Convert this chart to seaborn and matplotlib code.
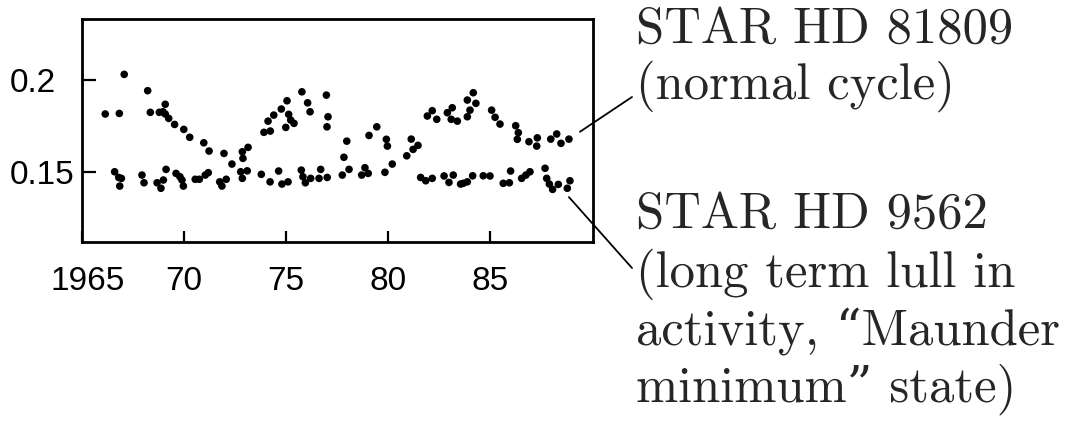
import matplotlib
matplotlib.use("Agg")
import matplotlib.pyplot as plt
from matplotlib.transforms import ScaledTranslation
import seaborn as sns
import pandas as pd

# ---- data ----
hd81809_year = [1966.14, 1966.83, 1967.07, 1968.22, 1968.35, 1968.79, 1968.97, 1969.08, 1969.08,
                1969.25, 1969.54, 1969.99, 1970.28, 1970.97, 1971.23, 1971.96, 1972.35, 1972.86,
                1972.89, 1973.14, 1973.92, 1974.23, 1974.12, 1974.40, 1974.77, 1975.05, 1975.13,
                1974.99, 1975.23, 1975.39, 1975.78, 1976.06, 1976.18, 1976.98, 1977.06, 1977.01,
                1977.84, 1977.98, 1979.07, 1979.45, 1979.92, 1979.97, 1980.21, 1980.92, 1981.14,
                1981.23, 1981.47, 1981.93, 1982.17, 1982.39, 1982.91, 1983.15, 1983.10, 1983.40,
                1984.18, 1983.89, 1984.31, 1984.02, 1983.89, 1985.08, 1985.25, 1985.49, 1986.26,
                1986.39, 1986.34, 1986.91, 1987.32, 1987.29, 1987.98, 1988.27, 1988.48, 1988.87]
hd81809_value = [0.1815, 0.1818, 0.2031, 0.1942, 0.1824, 0.1824, 0.1827, 0.1868, 0.1815,
                 0.1791, 0.1758, 0.1731, 0.1688, 0.1658, 0.1613, 0.1600, 0.1542, 0.1609,
                 0.1573, 0.1633, 0.1715, 0.1722, 0.1776, 0.1809, 0.1842, 0.1887, 0.1813,
                 0.1742, 0.1782, 0.1764, 0.1936, 0.1876, 0.1827, 0.1918, 0.1800, 0.1745,
                 0.1579, 0.1667, 0.1698, 0.1745, 0.1677, 0.1640, 0.1542, 0.1587, 0.1678,
                 0.1622, 0.1644, 0.1804, 0.1833, 0.1786, 0.1822, 0.1849, 0.1786, 0.1776,
                 0.1931, 0.1891, 0.1873, 0.1836, 0.1800, 0.1836, 0.1797, 0.1760, 0.1751,
                 0.1713, 0.1677, 0.1664, 0.1685, 0.1640, 0.1678, 0.1706, 0.1655, 0.1678]

hd9562_year = [1966.60, 1966.80, 1966.93, 1966.85, 1967.94, 1968.04, 1968.68, 1968.87, 1968.99,
               1969.12, 1969.61, 1969.80, 1969.90, 1969.97, 1970.55, 1970.75, 1971.04, 1971.19,
               1971.75, 1971.86, 1972.07, 1972.78, 1972.86, 1973.10, 1973.79, 1974.22, 1974.64,
               1974.80, 1975.10, 1975.75, 1975.83, 1975.95, 1976.21, 1976.62, 1976.70, 1977.02,
               1977.76, 1978.09, 1978.71, 1978.87, 1979.03, 1979.85, 1981.60, 1981.85, 1982.17,
               1982.75, 1982.99, 1983.20, 1983.56, 1983.69, 1983.89, 1984.15, 1984.67, 1985.00,
               1985.65, 1985.95, 1986.01, 1986.55, 1986.76, 1986.96, 1987.70, 1987.78, 1987.91,
               1988.07, 1988.35, 1988.92, 1988.79]
hd9562_value = [0.1500, 0.1469, 0.1464, 0.1422, 0.1482, 0.1440, 0.1440, 0.1410, 0.1455,
                0.1513, 0.1491, 0.1473, 0.1455, 0.1422, 0.1459, 0.1459, 0.1482, 0.1495,
                0.1445, 0.1422, 0.1459, 0.1500, 0.1464, 0.1505, 0.1486, 0.1445, 0.1504,
                0.1433, 0.1445, 0.1509, 0.1473, 0.1440, 0.1464, 0.1464, 0.1513, 0.1469,
                0.1482, 0.1513, 0.1482, 0.1522, 0.1491, 0.1497, 0.1469, 0.1451, 0.1464,
                0.1477, 0.1442, 0.1482, 0.1433, 0.1437, 0.1445, 0.1478, 0.1478, 0.1477,
                0.1437, 0.1440, 0.1504, 0.1464, 0.1482, 0.1500, 0.1519, 0.1464, 0.1433,
                0.1404, 0.1431, 0.1451, 0.1410]

x_ticks = [1965, 1970, 1975, 1980, 1985]
x_tick_labels = ["1965", "70", "75", "80", "85"]
y_ticks = [0.15, 0.2]
y_tick_labels = ["0.15", "0.2"]

label_81809 = ["STAR HD 81809", "(normal cycle)"]
label_9562 = ["STAR HD 9562", "(long term lull in", "activity, \u201cMaunder", "minimum\u201d state)"]

# ---- figure ----
sns.set_theme(style="ticks")
plt.rcParams["font.family"] = ["Liberation Sans", "DejaVu Sans"]

fig = plt.figure(figsize=(10.79, 4.30), dpi=100, facecolor="white")
ax = fig.add_axes([82 / 1079, 1 - 242 / 430, (593 - 82) / 1079, (242 - 19) / 430])

df = pd.concat([
    pd.DataFrame({"year": hd81809_year, "value": hd81809_value, "star": "HD 81809"}),
    pd.DataFrame({"year": hd9562_year, "value": hd9562_value, "star": "HD 9562"}),
])
sns.scatterplot(data=df, x="year", y="value", hue="star", palette=["black", "black"],
                s=30, edgecolor="none", linewidth=0, legend=False, ax=ax)

ax.set_xlim(1965, 1990.05)
ax.set_ylim(0.1117, 0.2333)
ax.set_xlabel("")
ax.set_ylabel("")
ax.set_xticks(x_ticks)
ax.set_xticklabels(x_tick_labels)
ax.set_yticks(y_ticks)
ax.set_yticklabels(y_tick_labels)

for sp in ax.spines.values():
    sp.set_visible(True)
    sp.set_linewidth(2.0)
    sp.set_color("black")

ax.tick_params(axis="x", direction="in", length=8, width=1.6, pad=17, labelsize=24,
               colors="black", top=False)
ax.tick_params(axis="y", direction="in", length=10, width=1.6, pad=52, labelsize=24,
               colors="black", right=False)
for lab in ax.get_yticklabels():
    lab.set_horizontalalignment("left")
first = ax.get_xticklabels()[0]
first.set_transform(first.get_transform() + ScaledTranslation(6 / 100, 0, fig.dpi_scale_trans))

# pointer lines
ax.annotate("", xy=(1989.41, 0.1718), xycoords="data",
            xytext=(632 / 1079, 1 - 97 / 430), textcoords="figure fraction",
            arrowprops=dict(arrowstyle="-", lw=1.3, color="black", shrinkA=0, shrinkB=0),
            annotation_clip=False)
ax.annotate("", xy=(1988.87, 0.1362), xycoords="data",
            xytext=(632 / 1079, 1 - 268 / 430), textcoords="figure fraction",
            arrowprops=dict(arrowstyle="-", lw=1.3, color="black", shrinkA=0, shrinkB=0),
            annotation_clip=False)

serif = ["cmr10", "DejaVu Serif"]
tx = 636 / 1079
for line, base in zip(label_81809, [43, 99]):
    fig.text(tx, 1 - base / 430, line, family=serif, fontsize=36.5, va="baseline", ha="left")
for line, base in zip(label_9562, [228, 287, 345, 402]):
    fig.text(tx, 1 - base / 430, line, family=serif, fontsize=36.5, va="baseline", ha="left")

fig.savefig("out.png", dpi=100, facecolor="white")
